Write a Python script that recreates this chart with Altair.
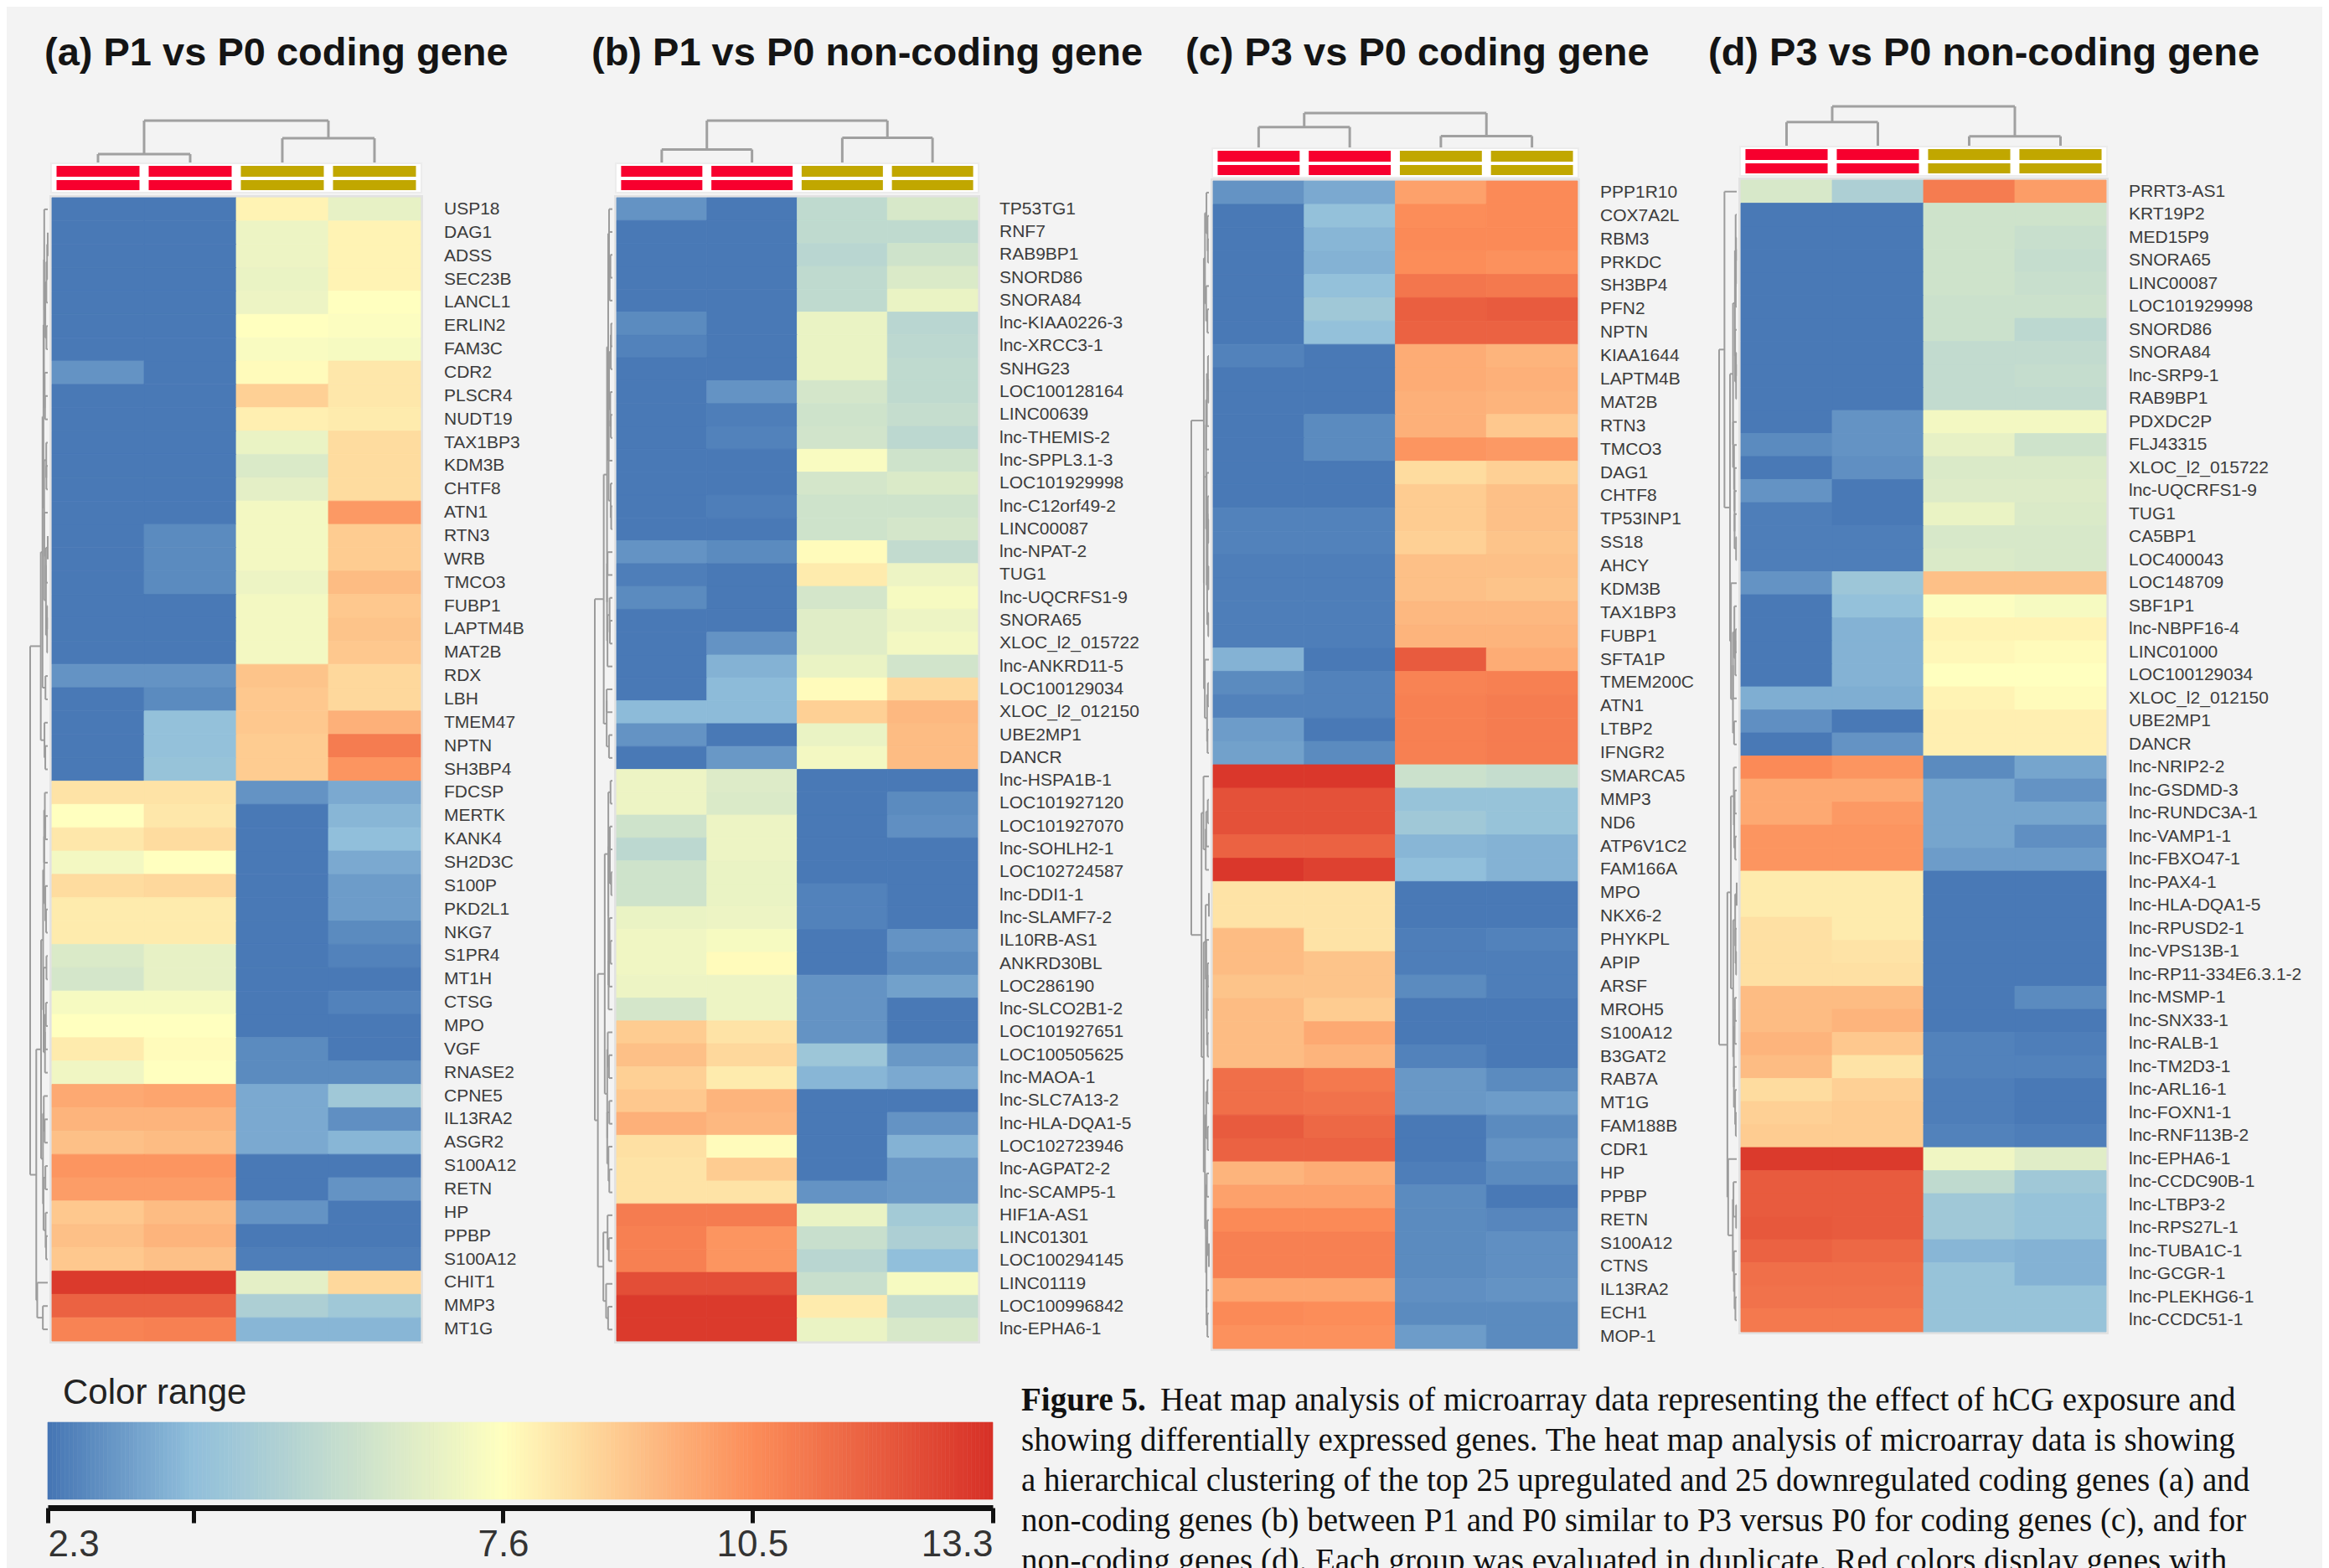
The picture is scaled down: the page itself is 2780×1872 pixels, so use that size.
import altair as alt
import numpy as np
import pandas as pd

# ---------------- data ----------------
titles = ["(a) P1 vs P0 coding gene", "(b) P1 vs P0 non-coding gene",
          "(c) P3 vs P0 coding gene", "(d) P3 vs P0 non-coding gene"]

genes_a = ["USP18", "DAG1", "ADSS", "SEC23B", "LANCL1", "ERLIN2", "FAM3C", "CDR2", "PLSCR4", "NUDT19",
           "TAX1BP3", "KDM3B", "CHTF8", "ATN1", "RTN3", "WRB", "TMCO3", "FUBP1", "LAPTM4B", "MAT2B",
           "RDX", "LBH", "TMEM47", "NPTN", "SH3BP4", "FDCSP", "MERTK", "KANK4", "SH2D3C", "S100P",
           "PKD2L1", "NKG7", "S1PR4", "MT1H", "CTSG", "MPO", "VGF", "RNASE2", "CPNE5", "IL13RA2",
           "ASGR2", "S100A12", "RETN", "HP", "PPBP", "S100A12", "CHIT1", "MMP3", "MT1G"]
vals_a = [[2.4, 2.4, 7.9, 6.8], [2.4, 2.4, 7.0, 7.9], [2.4, 2.4, 7.0, 7.9], [2.4, 2.4, 6.9, 7.9],
          [2.4, 2.4, 7.0, 7.6], [2.4, 2.4, 7.6, 7.5], [2.4, 2.4, 7.4, 7.3], [3.0, 2.4, 7.7, 8.2],
          [2.4, 2.4, 8.8, 8.2], [2.4, 2.4, 8.0, 8.1], [2.4, 2.4, 6.9, 8.5], [2.4, 2.4, 6.4, 8.5],
          [2.4, 2.4, 6.7, 8.5], [2.4, 2.4, 7.2, 10.2], [2.4, 2.8, 7.2, 8.9], [2.4, 2.8, 7.2, 8.9],
          [2.4, 2.8, 7.0, 9.3], [2.4, 2.4, 7.2, 9.0], [2.4, 2.4, 7.2, 9.1], [2.4, 2.4, 7.2, 9.0],
          [3.0, 3.0, 9.1, 8.6], [2.4, 2.8, 9.0, 8.6], [2.4, 4.1, 9.0, 9.6], [2.4, 4.1, 8.9, 11.0],
          [2.4, 4.2, 8.9, 10.3], [8.3, 8.3, 3.0, 3.5], [7.6, 8.2, 2.4, 3.8], [8.2, 8.5, 2.4, 4.0],
          [7.2, 7.6, 2.4, 3.5], [8.5, 8.6, 2.4, 3.2], [8.1, 8.1, 2.4, 3.2], [8.1, 8.1, 2.4, 2.8],
          [6.4, 6.8, 2.4, 2.6], [6.2, 6.8, 2.4, 2.4], [7.3, 7.3, 2.4, 2.6], [7.6, 7.6, 2.4, 2.4],
          [8.1, 7.7, 2.8, 2.4], [7.1, 7.6, 2.8, 2.8], [9.8, 9.9, 3.5, 4.5], [9.5, 9.5, 3.5, 2.9],
          [9.2, 9.3, 3.5, 3.8], [10.3, 10.3, 2.4, 2.4], [10.1, 10.1, 2.4, 3.0], [9.0, 9.3, 3.0, 2.4],
          [9.2, 9.5, 2.4, 2.4], [9.0, 9.2, 2.5, 2.5], [13.0, 13.0, 6.7, 8.6], [11.8, 11.8, 4.9, 4.5],
          [10.8, 10.9, 3.8, 3.8]]

genes_b = ["TP53TG1", "RNF7", "RAB9BP1", "SNORD86", "SNORA84", "lnc-KIAA0226-3", "lnc-XRCC3-1", "SNHG23",
           "LOC100128164", "LINC00639", "lnc-THEMIS-2", "lnc-SPPL3.1-3", "LOC101929998", "lnc-C12orf49-2",
           "LINC00087", "lnc-NPAT-2", "TUG1", "lnc-UQCRFS1-9", "SNORA65", "XLOC_l2_015722", "lnc-ANKRD11-5",
           "LOC100129034", "XLOC_l2_012150", "UBE2MP1", "DANCR", "lnc-HSPA1B-1", "LOC101927120",
           "LOC101927070", "lnc-SOHLH2-1", "LOC102724587", "lnc-DDI1-1", "lnc-SLAMF7-2", "IL10RB-AS1",
           "ANKRD30BL", "LOC286190", "lnc-SLCO2B1-2", "LOC101927651", "LOC100505625", "lnc-MAOA-1",
           "lnc-SLC7A13-2", "lnc-HLA-DQA1-5", "LOC102723946", "lnc-AGPAT2-2", "lnc-SCAMP5-1", "HIF1A-AS1",
           "LINC01301", "LOC100294145", "LINC01119", "LOC100996842", "lnc-EPHA6-1"]
vals_b = [[3.0, 2.4, 5.5, 6.3], [2.4, 2.4, 5.5, 5.5], [2.4, 2.4, 5.3, 6.0], [2.4, 2.4, 5.5, 6.4],
          [2.4, 2.4, 5.5, 6.9], [2.8, 2.4, 6.9, 5.3], [2.6, 2.4, 6.9, 5.4], [2.4, 2.4, 6.9, 5.5],
          [2.4, 3.0, 6.2, 5.5], [2.4, 2.5, 6.0, 5.7], [2.4, 2.6, 6.1, 5.4], [2.4, 2.4, 7.4, 6.0],
          [2.4, 2.4, 6.2, 6.4], [2.4, 2.5, 6.0, 6.0], [2.4, 2.4, 6.0, 6.2], [3.0, 2.8, 7.7, 5.6],
          [2.5, 2.4, 8.1, 7.0], [2.8, 2.4, 6.2, 7.3], [2.4, 2.4, 6.6, 7.0], [2.4, 3.0, 6.6, 7.2],
          [2.4, 3.7, 6.9, 6.1], [2.4, 3.9, 7.7, 8.6], [3.9, 3.9, 8.8, 9.4], [3.0, 2.4, 6.9, 9.3],
          [2.4, 3.1, 7.2, 9.3], [7.0, 6.5, 2.4, 2.4], [7.0, 6.4, 2.4, 2.8], [6.0, 7.0, 2.4, 2.9],
          [5.4, 7.0, 2.4, 2.4], [6.0, 6.9, 2.4, 2.4], [6.0, 6.9, 2.6, 2.4], [6.9, 7.0, 2.6, 2.4],
          [7.1, 7.3, 2.4, 3.0], [7.1, 7.7, 2.4, 2.8], [7.0, 7.0, 3.0, 3.3], [6.2, 7.0, 3.0, 2.4],
          [8.9, 8.3, 3.0, 2.4], [9.2, 8.6, 4.4, 3.1], [8.8, 8.1, 3.8, 3.5], [9.0, 9.5, 2.4, 2.4],
          [9.6, 9.4, 2.4, 3.0], [8.4, 7.7, 2.4, 3.7], [8.3, 8.9, 2.4, 3.1], [8.3, 8.3, 3.0, 3.1],
          [11.0, 11.0, 6.9, 4.6], [10.9, 10.3, 5.8, 4.9], [10.9, 10.3, 5.3, 4.0], [12.4, 12.4, 5.8, 7.3],
          [13.0, 13.0, 8.1, 5.7], [13.0, 13.0, 6.9, 6.3]]

genes_c = ["PPP1R10", "COX7A2L", "RBM3", "PRKDC", "SH3BP4", "PFN2", "NPTN", "KIAA1644", "LAPTM4B", "MAT2B",
           "RTN3", "TMCO3", "DAG1", "CHTF8", "TP53INP1", "SS18", "AHCY", "KDM3B", "TAX1BP3", "FUBP1",
           "SFTA1P", "TMEM200C", "ATN1", "LTBP2", "IFNGR2", "SMARCA5", "MMP3", "ND6", "ATP6V1C2", "FAM166A",
           "MPO", "NKX6-2", "PHYKPL", "APIP", "ARSF", "MROH5", "S100A12", "B3GAT2", "RAB7A", "MT1G",
           "FAM188B", "CDR1", "HP", "PPBP", "RETN", "S100A12", "CTNS", "IL13RA2", "ECH1", "MOP-1"]
vals_c = [[3.0, 3.5, 10.0, 10.6], [2.4, 4.1, 10.5, 10.6], [2.4, 3.8, 10.6, 10.6], [2.4, 3.7, 10.5, 10.4],
          [2.4, 4.1, 11.2, 11.1], [2.4, 4.5, 11.9, 12.0], [2.4, 4.1, 11.8, 11.8], [2.6, 2.4, 9.7, 9.5],
          [2.4, 2.4, 9.7, 9.6], [2.4, 2.4, 9.6, 9.5], [2.4, 2.8, 9.6, 9.0], [2.4, 2.8, 10.3, 10.2],
          [2.4, 2.4, 8.5, 8.8], [2.4, 2.4, 8.9, 9.2], [2.6, 2.6, 8.9, 9.2], [2.6, 2.6, 8.8, 9.1],
          [2.5, 2.5, 9.2, 9.2], [2.5, 2.5, 9.2, 9.1], [2.5, 2.5, 9.4, 9.4], [2.5, 2.5, 9.5, 9.5],
          [3.7, 2.4, 12.0, 9.7], [2.8, 2.6, 10.8, 10.9], [2.6, 2.6, 10.9, 11.0], [3.2, 2.4, 10.9, 11.0],
          [3.3, 2.8, 10.9, 11.0], [13.1, 13.1, 5.9, 5.7], [12.3, 12.3, 4.2, 4.2], [12.3, 12.3, 4.5, 4.2],
          [11.8, 11.8, 3.8, 3.7], [13.1, 12.8, 4.0, 3.7], [8.3, 8.3, 2.4, 2.4], [8.3, 8.3, 2.4, 2.4],
          [9.3, 8.3, 2.5, 2.6], [9.3, 9.1, 2.5, 2.5], [9.1, 9.1, 2.8, 2.5], [9.3, 8.9, 2.4, 2.4],
          [9.3, 9.8, 2.4, 2.4], [9.3, 9.5, 2.6, 2.4], [11.4, 11.1, 3.1, 2.8], [11.4, 11.3, 3.1, 3.2],
          [12.0, 11.6, 2.4, 2.8], [11.8, 11.8, 2.4, 3.0], [9.5, 9.7, 2.5, 2.8], [10.0, 10.0, 2.8, 2.4],
          [10.6, 10.6, 2.8, 2.7], [10.9, 10.9, 2.8, 2.9], [10.9, 10.9, 2.8, 2.9], [9.9, 9.9, 2.9, 3.0],
          [10.6, 10.5, 2.8, 2.8], [10.4, 10.4, 3.2, 2.8]]

genes_d = ["PRRT3-AS1", "KRT19P2", "MED15P9", "SNORA65", "LINC00087", "LOC101929998", "SNORD86", "SNORA84",
           "lnc-SRP9-1", "RAB9BP1", "PDXDC2P", "FLJ43315", "XLOC_l2_015722", "lnc-UQCRFS1-9", "TUG1",
           "CA5BP1", "LOC400043", "LOC148709", "SBF1P1", "lnc-NBPF16-4", "LINC01000", "LOC100129034",
           "XLOC_l2_012150", "UBE2MP1", "DANCR", "lnc-NRIP2-2", "lnc-GSDMD-3", "lnc-RUNDC3A-1",
           "lnc-VAMP1-1", "lnc-FBXO47-1", "lnc-PAX4-1", "lnc-HLA-DQA1-5", "lnc-RPUSD2-1", "lnc-VPS13B-1",
           "lnc-RP11-334E6.3.1-2", "lnc-MSMP-1", "lnc-SNX33-1", "lnc-RALB-1", "lnc-TM2D3-1", "lnc-ARL16-1",
           "lnc-FOXN1-1", "lnc-RNF113B-2", "lnc-EPHA6-1", "lnc-CCDC90B-1", "lnc-LTBP3-2", "lnc-RPS27L-1",
           "lnc-TUBA1C-1", "lnc-GCGR-1", "lnc-PLEKHG6-1", "lnc-CCDC51-1"]
vals_d = [[6.3, 4.9, 11.0, 10.1], [2.4, 2.4, 6.0, 6.0], [2.4, 2.4, 6.0, 5.8], [2.4, 2.4, 6.0, 5.7],
          [2.4, 2.4, 6.0, 5.8], [2.4, 2.4, 5.9, 5.9], [2.4, 2.4, 5.9, 5.4], [2.4, 2.4, 5.6, 5.6],
          [2.4, 2.4, 5.6, 5.7], [2.4, 2.4, 5.6, 5.6], [2.4, 3.0, 7.2, 7.2], [2.8, 3.0, 6.8, 6.0],
          [2.4, 2.9, 6.4, 6.4], [3.0, 2.4, 6.5, 6.5], [2.5, 2.4, 6.9, 6.4], [2.5, 2.5, 6.3, 6.3],
          [2.5, 2.5, 6.4, 6.3], [3.0, 4.4, 9.2, 9.2], [2.4, 4.1, 7.5, 7.3], [2.4, 3.7, 7.9, 7.9],
          [2.4, 3.7, 7.8, 7.7], [2.4, 3.7, 7.6, 7.6], [3.6, 3.6, 7.9, 7.7], [2.9, 2.4, 8.0, 8.0],
          [2.4, 3.0, 8.0, 8.0], [10.6, 10.3, 2.8, 3.4], [9.8, 9.8, 3.4, 3.0], [9.8, 10.2, 3.4, 3.4],
          [10.3, 10.3, 3.4, 2.9], [10.3, 10.3, 3.2, 3.2], [8.1, 8.1, 2.4, 2.4], [8.1, 8.1, 2.4, 2.4],
          [8.4, 8.1, 2.4, 2.4], [8.4, 8.3, 2.4, 2.4], [8.4, 8.4, 2.4, 2.4], [9.3, 9.3, 2.4, 2.8],
          [9.3, 9.5, 2.4, 2.4], [9.5, 9.0, 2.6, 2.5], [9.3, 8.3, 2.6, 2.6], [8.5, 8.8, 2.5, 2.4],
          [8.8, 8.9, 2.5, 2.4], [8.9, 8.9, 2.6, 2.5], [13.0, 13.0, 7.1, 6.6], [12.0, 12.0, 5.5, 4.5],
          [12.0, 12.0, 4.5, 4.2], [12.1, 12.0, 4.5, 4.2], [11.8, 11.6, 3.8, 3.7], [11.4, 11.4, 4.2, 3.7],
          [11.3, 11.3, 4.2, 4.2], [11.1, 11.1, 4.2, 4.2]]

# column-dendrogram merge heights (fraction of tree height): left pair, right pair
colmerge = {"a": [0.26, 0.61], "b": [0.36, 0.62], "c": [0.63, 0.39], "d": [0.63, 0.30]}

legend_ticks = [2.3, 4.0, 7.6, 10.5, 13.3]
color_stops = [2.3, 4.0, 7.6, 10.5, 13.3]
color_range = ["#4575b4", "#91bfdb", "#ffffbf", "#fc8d59", "#d73027"]

caption_bold = "Figure 5."
caption_lines = [
    "Heat map analysis of microarray data representing the effect of hCG exposure and",
    "showing differentially expressed genes. The heat map analysis of microarray data is showing",
    "a hierarchical clustering of the top 25 upregulated and 25 downregulated coding genes (a) and",
    "non-coding genes (b) between P1 and P0 similar to P3 versus P0 for coding genes (c), and for",
    "non-coding genes (d). Each group was evaluated in duplicate. Red colors display genes with",
]

# ---------------- layout / style ----------------
TOP = 8
TOP_H = 1632          # top row: page y 8 .. 1640
BOT = TOP + TOP_H     # bottom row starts at page y 1640
LAY = {
    "a": dict(frame=(8, 690), hx=(62, 502), hy=(236, 1601), bars=198, dspan=54, tx=53, ldx=28),
    "b": dict(frame=(690, 1400), hx=(736, 1167), hy=(236, 1601), bars=198, dspan=54, tx=706, ldx=26),
    "c": dict(frame=(1400, 2030), hx=(1448, 1883), hy=(216, 1610), bars=180, dspan=45, tx=1415, ldx=27),
    "d": dict(frame=(2030, 2772), hx=(2078, 2514), hy=(215, 1590), bars=178, dspan=51, tx=2039, ldx=27),
}
RED = "#f7002e"
GOLD = "#c1a700"
cscale = alt.Scale(domain=color_stops, range=color_range, interpolate="rgb")


def row_dendrogram(vals):
    X = np.array(vals, dtype=float)
    clusters = [{"idx": [i], "y": i + 0.5, "h": 0.0} for i in range(len(X))]
    segs = []
    while len(clusters) > 1:
        best = None
        for k in range(len(clusters) - 1):
            A = X[clusters[k]["idx"]]
            B = X[clusters[k + 1]["idx"]]
            d = np.mean(np.linalg.norm(A[:, None, :] - B[None, :, :], axis=2))
            if best is None or d < best[0]:
                best = (d, k)
        d, k = best
        A, B = clusters[k], clusters[k + 1]
        h = max(d, A["h"], B["h"])
        segs.append((h, h, A["y"], B["y"]))
        segs.append((A["h"], h, A["y"], A["y"]))
        segs.append((B["h"], h, B["y"], B["y"]))
        clusters[k:k + 2] = [{"idx": A["idx"] + B["idx"], "y": (A["y"] + B["y"]) / 2, "h": h}]
    return segs


def make_panel(key, title, genes, vals):
    L = LAY[key]
    N = len(genes)
    f0, f1 = L["frame"]
    hl, hr = L["hx"]
    ht, hb = L["hy"]
    rh = (hb - ht) / N
    u = (hr - hl) / 4
    xs = alt.Scale(domain=[0, 4], range=[hl - f0, hr - f0], nice=False, zero=False)
    ys = alt.Scale(domain=[0, N], range=[ht - TOP, hb - TOP], nice=False, zero=False)

    def X(f):
        return alt.X(f, scale=xs, axis=None)

    def Y(f):
        return alt.Y(f, scale=ys, axis=None)

    heat = pd.DataFrame([{"c0": c, "c1": c + 1, "r0": i, "r1": i + 1, "v": v, "gene": genes[i]}
                         for i, row in enumerate(vals) for c, v in enumerate(row)])
    border_df = pd.DataFrame({"x0": [0], "x1": [4], "y0": [0], "y1": [N]})
    border = alt.Chart(border_df).mark_rect(fill="#ffffff", stroke="#e2e2e2", strokeWidth=6).encode(
        x=X("x0:Q"), x2="x1", y=Y("y0:Q"), y2="y1")
    cells = alt.Chart(heat).mark_rect(strokeWidth=0.8).encode(
        x=X("c0:Q"), x2="c1", y=Y("r0:Q"), y2="r1",
        color=alt.Color("v:Q", scale=cscale, legend=None),
        stroke=alt.Stroke("v:Q", scale=cscale, legend=None))

    # row dendrogram (adjacent-constrained average-linkage clustering of the rows)
    segs = row_dendrogram(vals)
    hmax = max(s[1] for s in segs)

    def hx(h):
        return -(5 + 21 * (h / hmax) ** 0.7) / u

    rd = pd.DataFrame([{"x": hx(a), "x2": hx(b), "y": y1, "y2": y2} for a, b, y1, y2 in segs])
    rdend = alt.Chart(rd).mark_rule(color="#9c9c9c", strokeWidth=2).encode(
        x=X("x:Q"), x2="x2", y=Y("y:Q"), y2="y2")

    # column dendrogram
    bt = (L["bars"] - ht) / rh
    span = L["dspan"] / rh
    hL = bt - colmerge[key][0] * span
    hR = bt - colmerge[key][1] * span
    hT = bt - span
    cd = pd.DataFrame([
        {"x": 0.5, "x2": 0.5, "y": bt, "y2": hL}, {"x": 1.5, "x2": 1.5, "y": bt, "y2": hL},
        {"x": 0.5, "x2": 1.5, "y": hL, "y2": hL},
        {"x": 2.5, "x2": 2.5, "y": bt, "y2": hR}, {"x": 3.5, "x2": 3.5, "y": bt, "y2": hR},
        {"x": 2.5, "x2": 3.5, "y": hR, "y2": hR},
        {"x": 1.0, "x2": 1.0, "y": hL, "y2": hT}, {"x": 3.0, "x2": 3.0, "y": hR, "y2": hT},
        {"x": 1.0, "x2": 3.0, "y": hT, "y2": hT},
    ])
    cdend = alt.Chart(cd).mark_rule(color="#a0a0a0", strokeWidth=3).encode(
        x=X("x:Q"), x2="x2", y=Y("y:Q"), y2="y2")

    # annotation bars (two stripes per sample)
    s1 = (bt, bt + 13 / rh)
    s2 = (bt + 17 / rh, bt + 29 / rh)
    box_df = pd.DataFrame({"x0": [-0.01], "x1": [4.01], "y0": [bt - 3 / rh], "y1": [bt + 32 / rh]})
    box = alt.Chart(box_df).mark_rect(fill="#ffffff", stroke="#ececec", strokeWidth=2).encode(
        x=X("x0:Q"), x2="x1", y=Y("y0:Q"), y2="y1")
    red_df = pd.DataFrame([{"x0": c + 0.05, "x1": c + 0.95, "y0": s[0], "y1": s[1]}
                           for c in (0, 1) for s in (s1, s2)])
    gold_df = pd.DataFrame([{"x0": c + 0.05, "x1": c + 0.95, "y0": s[0], "y1": s[1]}
                            for c in (2, 3) for s in (s1, s2)])
    redbars = alt.Chart(red_df).mark_rect(color=RED).encode(x=X("x0:Q"), x2="x1", y=Y("y0:Q"), y2="y1")
    goldbars = alt.Chart(gold_df).mark_rect(color=GOLD).encode(x=X("x0:Q"), x2="x1", y=Y("y0:Q"), y2="y1")

    lab_df = pd.DataFrame({"g": genes, "ym": [i + 0.5 for i in range(N)], "xl": [4] * N})
    labels = alt.Chart(lab_df).mark_text(align="left", baseline="middle", dx=L["ldx"], fontSize=21,
                                         font="Liberation Sans", color="#3c3c3c").encode(
        x=X("xl:Q"), y=Y("ym:Q"), text="g:N")

    tdf = pd.DataFrame({"t": [title]})
    ttl = alt.Chart(tdf).mark_text(align="left", baseline="middle", fontSize=47, fontWeight="bold",
                                   font="Liberation Sans", color="#141414").encode(
        x=alt.value(L["tx"] - f0), y=alt.value(64 - TOP), text="t:N")

    return alt.layer(border, cells, rdend, cdend, box, redbars, goldbars, labels, ttl).properties(
        width=f1 - f0, height=TOP_H)


panels = [make_panel("a", titles[0], genes_a, vals_a),
          make_panel("b", titles[1], genes_b, vals_b),
          make_panel("c", titles[2], genes_c, vals_c),
          make_panel("d", titles[3], genes_d, vals_d)]
top_row = alt.hconcat(*panels, spacing=0)

# ---------------- colour legend ----------------
LEG_H = 1800 - BOT  # axis line sits at page y 1800
edges = np.linspace(2.3, 13.3, 221)
grad = pd.DataFrame({"v0": edges[:-1], "v1": edges[1:], "vm": (edges[:-1] + edges[1:]) / 2,
                     "g0": 0.0, "g1": 1.0})
legend_rects = alt.Chart(grad).mark_rect(strokeWidth=0.6).encode(
    x=alt.X("v0:Q", scale=alt.Scale(domain=[2.3, 13.3], range=[49, 1177], nice=False, zero=False),
            axis=alt.Axis(values=legend_ticks,
                          labelExpr="datum.value == 4 ? '' : format(datum.value, '.1f')",
                          domainColor="#111111", domainWidth=7, tickColor="#111111", tickWidth=5,
                          tickSize=18, labelFontSize=44, labelFont="Liberation Sans",
                          labelColor="#333333", labelPadding=4, offset=0, grid=False, title=None,
                          labelFlush=True)),
    x2="v1",
    y=alt.Y("g0:Q", scale=alt.Scale(domain=[0, 1], range=[1698 - BOT, 1790 - BOT], nice=False, zero=False),
            axis=None),
    y2="g1",
    color=alt.Color("vm:Q", scale=cscale, legend=None),
    stroke=alt.Stroke("vm:Q", scale=cscale, legend=None),
)
leg_title = alt.Chart(pd.DataFrame({"t": ["Color range"]})).mark_text(
    align="left", baseline="middle", fontSize=42, font="Liberation Sans", color="#222222").encode(
    x=alt.value(75 - 8), y=alt.value(1663 - BOT), text="t:N")
legend = alt.layer(legend_rects, leg_title).properties(width=1177, height=LEG_H)

# ---------------- caption ----------------
yscale_cap = alt.Scale(domain=[0, 4], range=[1672 - BOT, 1864 - BOT], nice=False, zero=False)
cap0 = pd.DataFrame({"line": [0], "t": [caption_bold]})
cap1 = pd.DataFrame({"line": [0], "t": [caption_lines[0]]})
cap2 = pd.DataFrame({"line": list(range(1, 5)), "t": caption_lines[1:]})
capstyle = dict(align="left", baseline="middle", font="Liberation Serif", fontSize=39, color="#111111")
c_bold = alt.Chart(cap0).mark_text(fontWeight="bold", **capstyle).encode(
    x=alt.value(0), y=alt.Y("line:Q", scale=yscale_cap, axis=None), text="t:N")
c_first = alt.Chart(cap1).mark_text(dx=166, **capstyle).encode(
    x=alt.value(0), y=alt.Y("line:Q", scale=yscale_cap, axis=None), text="t:N")
c_rest = alt.Chart(cap2).mark_text(**capstyle).encode(
    x=alt.value(0), y=alt.Y("line:Q", scale=yscale_cap, axis=None), text="t:N")
caption = alt.layer(c_bold, c_first, c_rest).properties(width=1540, height=LEG_H)

bottom_row = alt.hconcat(legend, caption, spacing=31)

chart = alt.vconcat(top_row, bottom_row, spacing=0).properties(
    padding=0, background="#f3f3f3").configure_view(stroke=None)

chart.save("out.html", embed_options={"renderer": "svg", "actions": False})
